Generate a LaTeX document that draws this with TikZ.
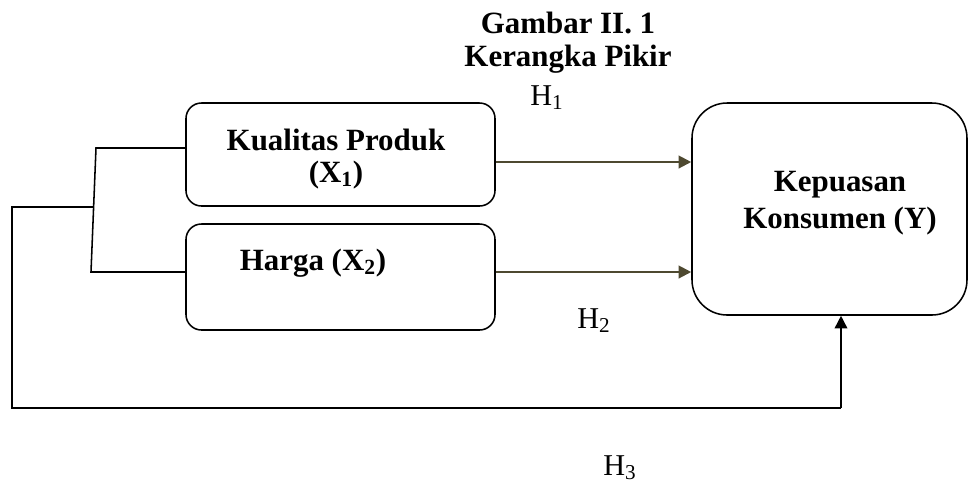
\documentclass[tikz,border=0pt]{standalone}
\usepackage{fontspec}
\setmainfont{Liberation Serif}
\usetikzlibrary{arrows.meta}
\definecolor{arrowolive}{RGB}{78,73,48}

\begin{document}
\begin{tikzpicture}[
    x=0.025cm, y=-0.025cm,
    txt/.style={font=\fontsize{21.5}{24}\selectfont, inner sep=0pt, anchor=base west},
    btxt/.style={font=\fontsize{22}{23}\selectfont\bfseries, inner sep=0pt, align=center},
    box/.style={draw=black, line width=1.1pt, rounded corners=11pt},
    arr/.style={draw=arrowolive, line width=1.5pt, -{Triangle[length=9pt, width=9pt]}},
    link/.style={draw=black, line width=1.1pt}
]
\useasboundingbox (0,0) rectangle (969,483);

% --- Title ---
\node[btxt, font=\fontsize{22}{23.5}\selectfont\bfseries] (title) at (568,43) {Gambar II. 1\\Kerangka Pikir};

% --- Boxes ---
\node[box, minimum width=309*0.025cm, minimum height=103*0.025cm] (kp) at (340.5,154.5) {};
\node[btxt] (kptxt) at (336,159) {Kualitas Produk\\(X\textsubscript{1})};
\node[box, minimum width=309*0.025cm, minimum height=106*0.025cm] (hg) at (340.5,277) {};
\node[btxt] (hgtxt) at (313,263) {Harga (X\textsubscript{2})};
\node[box, rounded corners=25pt, minimum width=275*0.025cm, minimum height=212*0.025cm] (ky) at (829.5,209) {};
\node[btxt, font=\fontsize{22}{26}\selectfont\bfseries] (kytxt) at (840,203) {Kepuasan\\Konsumen (Y)};

% Hypothesis labels
\node[txt] (h1) at (530,105) {H\textsubscript{1}};
\node[txt] (h2) at (577,328) {H\textsubscript{2}};
\node[txt] (h3) at (603,475) {H\textsubscript{3}};

% --- Direct arrows ---
\draw[arr] (kp.east |- 0,162) -- (ky.west |- 0,162);
\draw[arr] (hg.east |- 0,272) -- (ky.west |- 0,272);

% --- Joint bracket ---
\coordinate (b1) at (96,148);
\coordinate (b2) at (91,272);
\coordinate (bm) at (93.5,207);
\coordinate (c1) at (12,207);
\coordinate (c2) at (12,408);
\coordinate (c3) at (841,408);
\draw[link] (kp.west |- b1) -- (b1) -- (b2) -- (hg.west |- b2);
\draw[link] (bm) -- (c1) -- (c2) -- (c3);
\draw[link, -{Triangle[length=9pt, width=9pt]}] (c3) -- (ky.south -| c3);

\end{tikzpicture}
\end{document}
